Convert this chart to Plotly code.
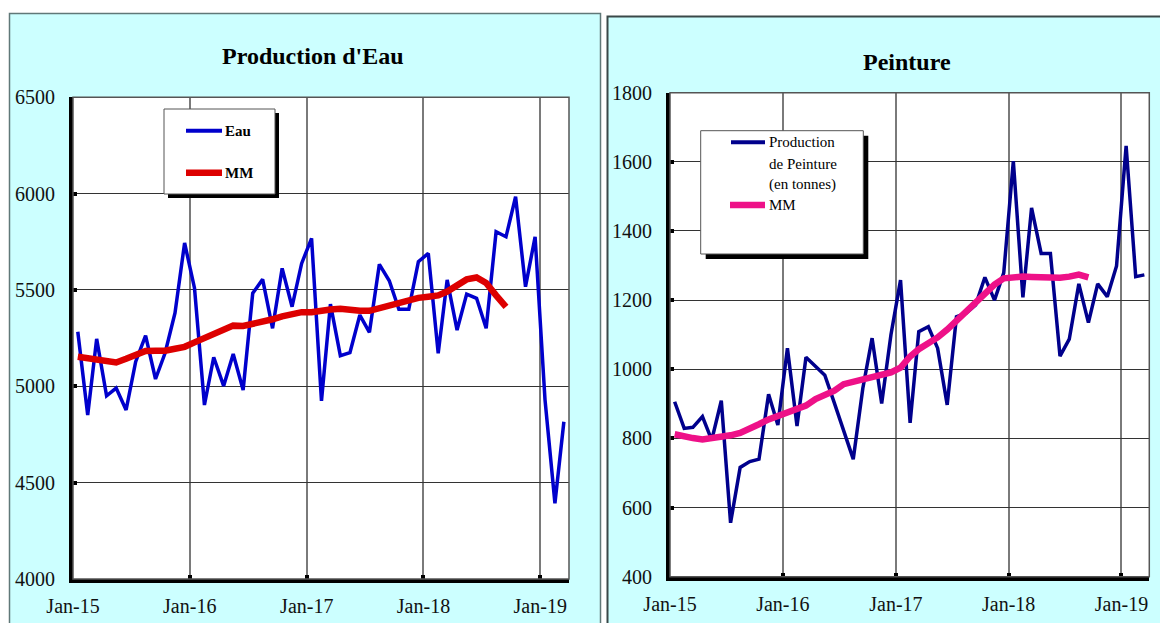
import plotly.graph_objects as go

# The page body has an 8 px margin, so the figure is drawn 8 px smaller and
# all pixel positions below are given in window coordinates, shifted by OFF.
WIN_W, WIN_H = 1168, 623
OFF = 8
W, H = WIN_W - OFF, WIN_H - OFF

# ---------------- data ----------------
months = [f"{2015 + i // 12}-{i % 12 + 1:02d}-16" for i in range(51)]

eau = [5283, 4851, 5246, 4951, 4991, 4877, 5128, 5263, 5038, 5173, 5381, 5744,
       5509, 4903, 5151, 5002, 5168, 4981, 5483, 5555, 5301, 5612, 5413, 5638,
       5768, 4925, 5427, 5159, 5175, 5370, 5280, 5633, 5548, 5400, 5400, 5647,
       5690, 5171, 5552, 5292, 5479, 5457, 5301, 5802, 5776, 5984, 5517, 5776,
       4930, 4393, 4816]

eau_mm = [5153, 5145, 5137, 5130, 5124, 5143, 5165, 5183, 5184, 5185, 5195, 5205,
          5228, 5252, 5277, 5298, 5315, 5313, 5322, 5335, 5348, 5363, 5376, 5385,
          5385, 5388, 5399, 5403, 5394, 5392, 5392, 5407, 5420, 5432, 5447, 5459,
          5465, 5472, 5492, 5527, 5555, 5565, 5536, 5472, 5412]

peinture = [906, 829, 832, 863, 795, 909, 556, 716, 733, 740, 928, 839,
            1061, 836, 1035, 1009, 983, 902, 821, 740, 945, 1090, 901, 1100,
            1258, 845, 1109, 1123, 1061, 897, 1152, 1162, 1186, 1266, 1200, 1279,
            1602, 1208, 1467, 1335, 1335, 1038, 1087, 1247, 1135, 1247, 1210, 1299,
            1646, 1268, 1273]

peinture_mm = [812, 805, 801, 797, 800, 804, 809, 816, 827, 841, 855, 864,
               873, 884, 895, 914, 926, 938, 957, 964, 971, 977, 984, 991,
               1005, 1037, 1058, 1075, 1092, 1115, 1140, 1167, 1195, 1222, 1245, 1263,
               1266, 1268, 1267, 1266, 1265, 1265, 1268, 1274, 1266]

title_left = "Production d'Eau"
title_right = "Peinture"
legend_left = ["Eau", "MM"]
legend_right = ["Production", "de Peinture", "(en tonnes)", "MM"]

# ---------------- helpers ----------------
def fx(x):
    return (x - OFF) / W


def fy(y):
    return 1 - (y - OFF) / H


FONT = "Liberation Serif"
BLUE = "#0000CC"
RED = "#DD0000"
NAVY = "#00008C"
PINK = "#EE1188"
CYAN = "#CCFFFF"

fig = go.Figure()
fig.add_trace(go.Scatter(x=months, y=eau, mode="lines", line=dict(color=BLUE, width=3.5),
                         xaxis="x", yaxis="y", showlegend=False))
fig.add_trace(go.Scatter(x=months[:len(eau_mm)], y=eau_mm, mode="lines",
                         line=dict(color=RED, width=6.5), xaxis="x", yaxis="y", showlegend=False))
fig.add_trace(go.Scatter(x=months, y=peinture, mode="lines", line=dict(color=NAVY, width=3.5),
                         xaxis="x2", yaxis="y2", showlegend=False))
fig.add_trace(go.Scatter(x=months[:len(peinture_mm)], y=peinture_mm, mode="lines",
                         line=dict(color=PINK, width=6.5), xaxis="x2", yaxis="y2", showlegend=False))

axis_common = dict(
    showline=True, linecolor="black", linewidth=4,
    ticks="inside", ticklen=4, tickwidth=4, tickcolor="black",
    tickfont=dict(family=FONT, size=20, color="#111"),
    automargin=False,
)
xcommon = dict(axis_common, type="date", range=["2015-01-01", "2019-04-01"],
               tick0="2015-01-01", dtick="M12", tickformat="%b-%y",
               showgrid=True, gridcolor="#7a7a7a", gridwidth=1.5, zeroline=False,
               ticklabelstandoff=6)
ycommon = dict(axis_common, showgrid=True, gridcolor="#333333", gridwidth=1, zeroline=False,
               ticklabelstandoff=10)

# plot area pixel boxes (window coordinates)
L = dict(x0=73, x1=569, y0=97.3, y1=579)
R = dict(x0=670, x1=1149.3, y0=92.7, y1=576.7)

fig.update_layout(
    width=W, height=H, autosize=False,
    margin=dict(l=0, r=0, t=0, b=0, pad=0),
    paper_bgcolor="white", plot_bgcolor="white",
    xaxis=dict(xcommon, domain=[fx(L["x0"]), fx(L["x1"])], anchor="y"),
    yaxis=dict(ycommon, domain=[fy(L["y1"]), fy(L["y0"])], range=[4000, 6500], dtick=500,
               anchor="x"),
    xaxis2=dict(xcommon, domain=[fx(R["x0"]), fx(R["x1"])], anchor="y2"),
    yaxis2=dict(ycommon, domain=[fy(R["y1"]), fy(R["y0"])], range=[400, 1800], dtick=200,
                anchor="x2"),
)

shapes = []
# panels
shapes.append(dict(type="rect", xref="paper", yref="paper", layer="below",
                   x0=fx(9.5), x1=fx(600.5), y0=fy(640), y1=fy(13.5),
                   fillcolor=CYAN, line=dict(color="#607878", width=1.5)))
shapes.append(dict(type="rect", xref="paper", yref="paper", layer="below",
                   x0=fx(607.5), x1=fx(1180), y0=fy(640), y1=fy(16.5),
                   fillcolor=CYAN, line=dict(color="#3a4848", width=2)))
# white plot areas + thin frame
for B in (L, R):
    shapes.append(dict(type="rect", xref="paper", yref="paper", layer="below",
                       x0=fx(B["x0"]), x1=fx(B["x1"]), y0=fy(B["y1"]), y1=fy(B["y0"]),
                       fillcolor="white", line=dict(width=0)))
    shapes.append(dict(type="rect", xref="paper", yref="paper", layer="above",
                       x0=fx(B["x0"]), x1=fx(B["x1"]), y0=fy(B["y1"]), y1=fy(B["y0"]),
                       fillcolor="rgba(0,0,0,0)", line=dict(color="#555555", width=1.5)))


# legend boxes (with shadow)
def legend_box(x0, y0, x1, y1, off):
    shapes.append(dict(type="rect", xref="paper", yref="paper", layer="above",
                       x0=fx(x0 + off), x1=fx(x1 + off), y0=fy(y1 + off), y1=fy(y0 + off),
                       fillcolor="black", line=dict(width=0)))
    shapes.append(dict(type="rect", xref="paper", yref="paper", layer="above",
                       x0=fx(x0), x1=fx(x1), y0=fy(y1), y1=fy(y0),
                       fillcolor="white", line=dict(color="#555555", width=1)))


def legend_line(x0, x1, y, color, width):
    shapes.append(dict(type="line", xref="paper", yref="paper", layer="above",
                       x0=fx(x0), x1=fx(x1), y0=fy(y), y1=fy(y),
                       line=dict(color=color, width=width)))


legend_box(164, 109, 275, 194, 4)
legend_line(186, 222, 130.7, BLUE, 4)
legend_line(186, 222, 172.7, RED, 6.5)

legend_box(700.7, 130.7, 863.3, 254, 5)
legend_line(731, 765, 142.3, NAVY, 4)
legend_line(730, 765, 205, PINK, 6.5)

annotations = []


def text(x, y, s, size, bold=False, xanchor="left"):
    annotations.append(dict(xref="paper", yref="paper", x=fx(x), y=fy(y),
                            text=(f"<b>{s}</b>" if bold else s),
                            showarrow=False, xanchor=xanchor, yanchor="middle",
                            font=dict(family=FONT, size=size, color="black")))


text(313, 56, title_left, 24, bold=True, xanchor="center")
text(907, 62, title_right, 24, bold=True, xanchor="center")
text(223, 130.7, legend_left[0], 15, bold=True)
text(223, 172.7, legend_left[1], 15, bold=True)
for s, y in zip(legend_right, [142.3, 163.7, 184.3, 205]):
    text(767, y, s, 15)

fig.update_layout(shapes=shapes, annotations=annotations)
fig.write_html("out.html")
